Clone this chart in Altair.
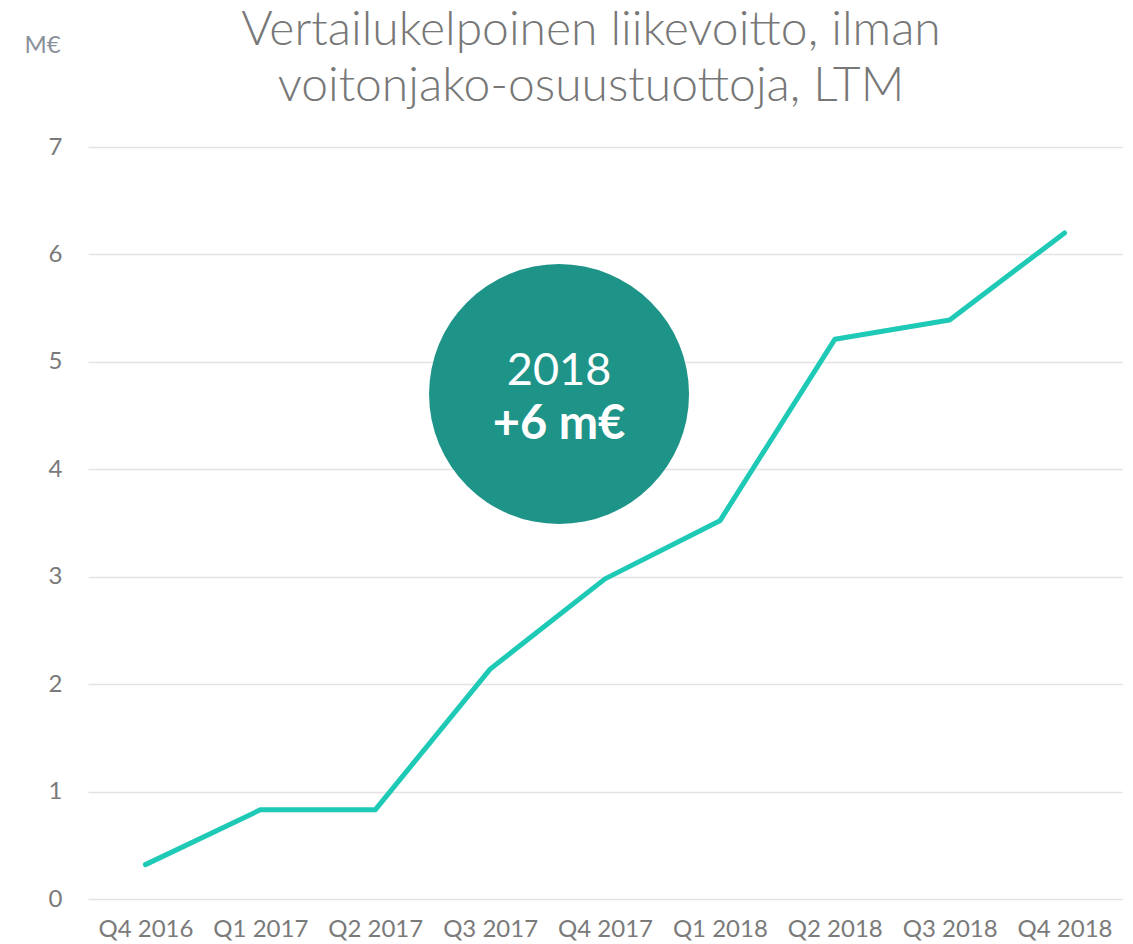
import altair as alt
import pandas as pd

quarters = ["Q4 2016", "Q1 2017", "Q2 2017", "Q3 2017", "Q4 2017",
            "Q1 2018", "Q2 2018", "Q3 2018", "Q4 2018"]
values = [0.32, 0.83, 0.83, 2.14, 2.98, 3.52, 5.21, 5.39, 6.20]

bubble_x = [3.6]
bubble_y = [4.7]
bubble_line1 = ["2018"]
bubble_line2 = ["+6 m€"]

df = pd.DataFrame({"i": list(range(len(quarters))), "q": quarters, "v": values})
bub = pd.DataFrame({"x": bubble_x, "y": bubble_y, "t1": bubble_line1, "t2": bubble_line2})

label_expr = "[" + ",".join("'" + q + "'" for q in quarters) + "][datum.value]"

xscale = alt.Scale(domain=[-0.5, len(quarters) - 0.5], nice=False, zero=False)
yscale = alt.Scale(domain=[0, 7], nice=False)

FONT = "Lato"
GRAY = "#7a7a7a"

xaxis = alt.Axis(values=list(range(len(quarters))), labelExpr=label_expr, title=None,
                 grid=False, domain=False, ticks=False, labelFont=FONT, labelFontSize=24,
                 labelColor=GRAY, labelPadding=18)
yaxis = alt.Axis(values=list(range(0, 8)), format="d", title="M€", titleAngle=0,
                 titleX=-46, titleY=-102,
                 titleAlign="center", titleBaseline="middle", titleFont=FONT,
                 titleFontSize=24, titleFontWeight="normal", titleColor="#8a909a",
                 grid=True, gridColor="#e3e3e3", gridWidth=1.5, domain=False, ticks=False,
                 labelFont=FONT, labelFontSize=24, labelColor=GRAY, labelPadding=26)

line = alt.Chart(df).mark_line(color="#1ec9b6", strokeWidth=5, strokeCap="round",
                               strokeJoin="round").encode(
    x=alt.X("i:Q", scale=xscale, axis=xaxis),
    y=alt.Y("v:Q", scale=yscale, axis=yaxis),
)

circle = alt.Chart(bub).mark_point(filled=True, shape="circle", size=67600,
                                   color="#1e9488", opacity=1).encode(
    x=alt.X("x:Q", scale=xscale),
    y=alt.Y("y:Q", scale=yscale),
)
t1 = alt.Chart(bub).mark_text(color="white", font=FONT, fontSize=45, dy=-23,
                              baseline="middle").encode(
    x=alt.X("x:Q", scale=xscale), y=alt.Y("y:Q", scale=yscale), text="t1:N")
t2 = alt.Chart(bub).mark_text(color="white", font=FONT, fontSize=47, fontWeight="bold",
                              dy=31, baseline="middle").encode(
    x=alt.X("x:Q", scale=xscale), y=alt.Y("y:Q", scale=yscale), text="t2:N")

chart = alt.layer(line, circle, t1, t2).properties(
    width=1034, height=752,
    autosize=alt.AutoSizeParams(type="none"),
    padding={"left": 80, "top": 139, "right": 3, "bottom": 44},
    title=alt.TitleParams(
        text=["Vertailukelpoinen liikevoitto, ilman", "voitonjako-osuustuottoja, LTM"],
        font=FONT, fontSize=48, fontWeight=300, color="#777777",
        anchor="middle", dx=-14, offset=-78, lineHeight=56,
    ),
).configure_view(stroke=None)

chart.save("out.html", embed_options={"renderer": "svg", "actions": False})
